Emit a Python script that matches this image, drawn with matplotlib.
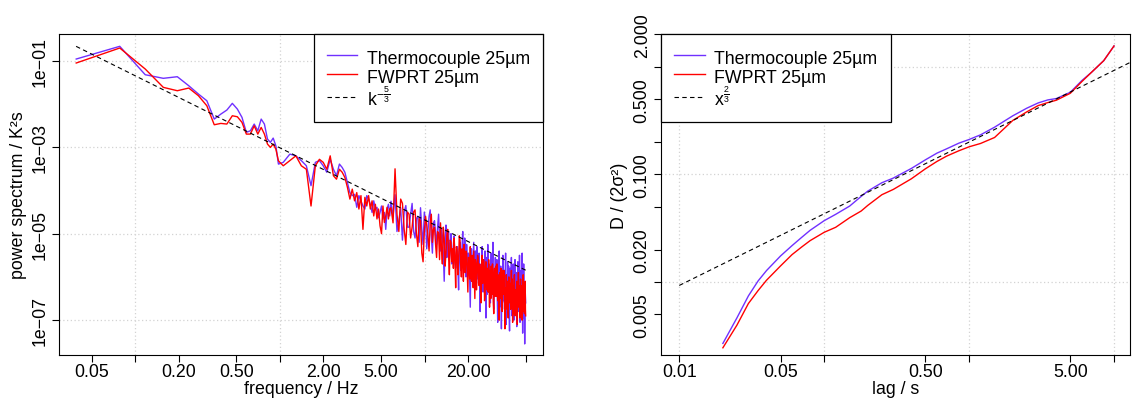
import numpy as np
import matplotlib
matplotlib.use("Agg")
import matplotlib.pyplot as plt
from matplotlib.ticker import FixedLocator, FixedFormatter, NullLocator

plt.rcParams['font.family'] = ['Liberation Sans', 'DejaVu Sans']
plt.rcParams['mathtext.fontset'] = 'custom'
plt.rcParams['mathtext.rm'] = 'Liberation Sans'
plt.rcParams['mathtext.it'] = 'Liberation Sans:italic'

# ---------------- power spectrum (left) ----------------
# frequency bins k * df (df = 1/25.6 Hz), thinned above 1 Hz
df = 1 / 25.6
bins = np.concatenate([np.arange(1, 26), np.arange(27, 148, 3), np.arange(150, 1281, 5)])

# log10 of the spectrum
tc_lo = [-0.961, -0.667, -1.324, -1.407, -1.370, -1.579, -1.771, -1.926, -2.350, -2.234,
         -2.141, -1.986, -2.118, -2.311, -2.657, -2.620, -2.465, -2.620, -2.350, -2.465,
         -2.812, -2.889, -2.789, -2.968, -3.391]
pr_lo = [-1.053, -0.706, -1.192, -1.616, -1.694, -1.632, -1.810, -2.042, -2.481, -2.450,
         -2.465, -2.273, -2.296, -2.426, -2.697, -2.697, -2.505, -2.697, -2.543, -2.697,
         -2.928, -3.005, -2.928, -3.044, -3.315]

tc_mid = [-3.35, -3.16, -3.20, -3.31, -3.43, -3.89, -3.35, -3.31, -3.43, -3.58,
          -3.28, -3.51, -3.66, -3.39, -3.47, -3.58, -3.82, -4.05, -4.12, -4.09,
          -4.39, -4.12, -4.24, -4.36, -4.43, -4.12, -4.20, -4.32, -4.51, -4.24,
          -4.43, -4.39, -4.63, -4.51, -4.36, -4.66, -4.51, -4.90, -4.43, -4.32,
          -4.59]
pr_mid = [-3.43, -3.31, -3.20, -3.43, -3.51, -4.36, -3.43, -3.28, -3.35, -3.51,
          -3.20, -3.66, -3.74, -3.51, -3.58, -3.70, -3.93, -4.20, -3.97, -4.24,
          -4.05, -4.43, -4.12, -4.90, -4.16, -4.36, -4.12, -4.43, -4.24, -4.59,
          -4.32, -4.66, -4.43, -4.82, -5.00, -4.36, -4.74, -4.59, -4.39, -4.66,
          -4.43]

tc_hi = [-4.25, -4.60, -4.10, -4.95, -4.70, -4.40, -5.15, -4.50, -4.35, -4.85,
         -4.85, -4.55, -4.30, -4.95, -5.10, -4.65, -4.60, -5.20, -4.40, -4.90,
         -5.25, -4.50, -4.70, -5.35, -4.95, -4.60, -4.45, -5.05, -5.45, -4.75,
         -4.70, -5.00, -5.25, -4.85, -4.55, -5.15, -5.40, -4.90, -5.05, -5.45,
         -6.10, -5.20, -4.80, -5.55, -5.30, -4.95, -5.60, -5.25, -5.00, -5.70,
         -5.50, -5.25, -5.05, -5.65, -5.80, -5.45, -5.30, -5.75, -6.30, -5.40,
         -5.20, -5.85, -5.60, -5.30, -4.95, -5.55, -5.90, -5.10, -5.40, -6.00,
         -5.25, -5.70, -5.95, -5.45, -5.50, -6.10, -6.70, -5.60, -5.35, -6.05,
         -5.80, -5.50, -5.20, -5.85, -6.20, -5.40, -5.65, -6.15, -5.30, -5.90,
         -6.05, -5.60, -5.45, -6.20, -6.80, -5.85, -5.70, -6.10, -5.30, -5.95,
         -6.35, -5.65, -5.90, -6.25, -5.40, -6.15, -6.95, -5.55, -5.75, -6.40,
         -5.25, -5.90, -6.20, -5.70, -5.85, -6.35, -6.60, -5.80, -5.45, -6.25,
         -6.00, -5.60, -5.20, -6.40, -6.75, -6.10, -5.95, -6.30, -5.55, -6.45,
         -6.40, -5.90, -5.60, -6.55, -7.05, -6.20, -6.00, -5.85, -5.40, -6.70,
         -6.30, -5.95, -5.75, -6.50, -7.20, -6.35, -6.10, -6.75, -5.50, -6.05,
         -6.55, -6.15, -5.85, -6.60, -6.25, -5.80, -5.45, -6.65, -7.10, -6.40,
         -6.00, -6.50, -5.65, -6.20, -6.45, -5.75, -5.95, -6.85, -7.25, -6.30,
         -5.80, -6.35, -6.50, -6.00, -5.55, -6.75, -6.90, -6.30, -6.10, -6.55,
         -5.70, -6.40, -7.00, -6.25, -6.20, -6.85, -5.60, -6.45, -6.65, -6.05,
         -5.90, -6.55, -7.15, -6.40, -6.35, -6.00, -5.65, -6.60, -6.80, -6.30,
         -6.05, -6.70, -5.50, -6.45, -7.05, -6.15, -6.25, -6.90, -5.85, -6.50,
         -6.70, -6.10, -5.45, -6.65, -7.30, -6.50, -6.15, -6.80, -5.70, -6.40,
         -6.95, -6.25, -7.55, -6.85, -6.30, -6.45, -6.60]
pr_hi = [-4.40, -4.75, -3.50, -4.55, -4.95, -4.20, -4.30, -4.90, -5.25, -4.50,
         -4.55, -5.10, -4.85, -4.50, -4.45, -5.00, -5.30, -4.65, -4.70, -5.45,
         -5.65, -4.95, -4.60, -4.80, -5.05, -5.40, -4.75, -4.55, -5.20, -4.90,
         -4.85, -5.25, -5.55, -4.95, -5.00, -5.60, -4.75, -5.35, -5.70, -4.85,
         -5.10, -5.75, -5.45, -5.05, -4.90, -5.50, -5.95, -5.15, -5.20, -5.65,
         -5.35, -5.80, -5.10, -5.55, -6.25, -5.30, -5.40, -5.95, -5.60, -5.05,
         -5.15, -5.70, -6.00, -5.35, -5.50, -6.10, -5.25, -5.65, -5.90, -5.40,
         -5.45, -5.90, -6.35, -5.55, -5.60, -6.05, -5.30, -5.85, -6.10, -5.50,
         -5.75, -6.25, -5.40, -5.95, -6.50, -5.60, -5.70, -6.30, -5.95, -5.50,
         -5.55, -6.00, -6.20, -5.70, -5.80, -6.35, -6.60, -5.90, -5.50, -6.15,
         -6.05, -5.60, -5.85, -6.55, -6.45, -5.75, -5.65, -6.20, -6.30, -5.80,
         -5.90, -6.35, -5.60, -6.10, -6.70, -5.85, -6.00, -6.50, -5.75, -6.20,
         -6.40, -5.70, -5.95, -6.60, -6.85, -6.05, -5.80, -6.45, -6.15, -5.75,
         -6.05, -6.45, -5.70, -6.15, -6.55, -5.95, -6.20, -6.60, -7.00, -6.30,
         -5.90, -6.50, -6.35, -5.80, -6.10, -6.65, -6.80, -6.25, -5.85, -6.40,
         -6.40, -5.85, -6.05, -6.55, -7.20, -6.35, -6.25, -6.75, -5.95, -6.45,
         -6.60, -6.10, -6.30, -6.70, -6.95, -6.20, -6.00, -6.60, -6.50, -6.15,
         -6.15, -6.50, -6.75, -6.25, -5.85, -6.60, -6.45, -6.05, -7.05, -6.40,
         -6.20, -6.85, -6.55, -6.10, -5.95, -6.65, -6.90, -6.30, -6.35, -6.70,
         -6.60, -6.30, -6.10, -6.80, -7.10, -6.45, -6.30, -6.65, -5.90, -6.50,
         -6.70, -6.20, -6.40, -6.75, -6.95, -6.35, -6.05, -6.85, -6.55, -6.20,
         -6.25, -6.70, -7.00, -6.40, -6.45, -6.60, -5.95, -6.55, -6.80, -6.15,
         -6.35, -6.85, -6.65, -6.40, -6.10, -6.75, -6.90]

kol_f = [0.039, 50.0]
kol_p = [0.215, 1.43e-6]

# ---------------- structure function (right) ----------------
lag = [0.02, 0.025, 0.03, 0.035, 0.04, 0.05, 0.06, 0.07, 0.08, 0.1, 0.12, 0.15, 0.18,
       0.2, 0.25, 0.3, 0.4, 0.5, 0.6, 0.7, 0.85, 1.0, 1.2, 1.5, 2.0, 2.5, 3.0, 3.5,
       4.0, 5.0, 6.0, 7.0, 8.5, 10.0]
tc_D = [0.00269, 0.00465, 0.00744, 0.01025, 0.01279, 0.01749, 0.02181, 0.02605, 0.03027,
        0.0372, 0.04259, 0.05087, 0.06253, 0.07007, 0.08375, 0.09253, 0.1138, 0.1369,
        0.1578, 0.1731, 0.1954, 0.2113, 0.2335, 0.275, 0.3504, 0.4127, 0.4624, 0.4932,
        0.5074, 0.5808, 0.7451, 0.8905, 1.1425, 1.5629]
pr_D = [0.00245, 0.00398, 0.00632, 0.00834, 0.0104, 0.01413, 0.01799, 0.0212, 0.02427,
        0.029, 0.03227, 0.03966, 0.04573, 0.0516, 0.0648, 0.07262, 0.09123, 0.113,
        0.1321, 0.1481, 0.166, 0.1807, 0.1941, 0.2206, 0.3172, 0.3816, 0.4369, 0.4658,
        0.4897, 0.5685, 0.7295, 0.8905, 1.1425, 1.5629]
ref_lag = [0.01, 20.0]
ref_D = [0.0093, 1.47]

labels = ['Thermocouple 25µm', 'FWPRT 25µm']
col_tc = '#7030FF'
col_pr = '#FF0000'
FS = 12.8

fig = plt.figure(figsize=(11.32, 4.02), dpi=100)
ax1 = fig.add_axes([0.05212, 0.11443, 0.42783, 0.79851])
ax2 = fig.add_axes([0.58392, 0.11443, 0.41475, 0.79851])


def style_axis(ax, xt, xl, yt, yl, gx, gy):
    ax.set_xscale('log')
    ax.set_yscale('log')
    for g in gx:
        ax.axvline(g, color='#d3d3d3', lw=0.9, ls=(0, (1, 2)), zorder=0)
    for g in gy:
        ax.axhline(g, color='#d3d3d3', lw=0.9, ls=(0, (1, 2)), zorder=0)
    ax.xaxis.set_major_locator(FixedLocator(xt))
    ax.xaxis.set_major_formatter(FixedFormatter(xl))
    ax.yaxis.set_major_locator(FixedLocator(yt))
    ax.yaxis.set_major_formatter(FixedFormatter(yl))
    ax.xaxis.set_minor_locator(NullLocator())
    ax.yaxis.set_minor_locator(NullLocator())
    ax.tick_params(direction='out', length=5, width=0.8, labelsize=FS, pad=1)
    ax.tick_params(axis='y', pad=2.4)
    for lab in ax.get_yticklabels():
        lab.set_rotation(90)
        lab.set_va('center')
    for s in ax.spines.values():
        s.set_linewidth(0.8)


# left panel
freq = bins * df
ax1.plot(freq, 10 ** np.array(tc_lo + tc_mid + tc_hi), color=col_tc, lw=1.0, label=labels[0])
ax1.plot(freq, 10 ** np.array(pr_lo + pr_mid + pr_hi), color=col_pr, lw=1.0, label=labels[1])
ax1.plot(kol_f, kol_p, color='black', lw=0.8, ls=(0, (4, 3)), label=r'$\mathrm{k}^{-\frac{5}{3}}$')
ax1.set_xlim(0.0297, 66.2)
ax1.set_ylim(10 ** -7.806, 10 ** -0.382)
style_axis(ax1,
           [0.05, 0.1, 0.2, 0.5, 1, 2, 5, 10, 20, 50],
           ['0.05', '', '0.20', '0.50', '', '2.00', '5.00', '', '20.00', ''],
           [1e-1, 1e-3, 1e-5, 1e-7],
           ['1e\u221201', '1e\u221203', '1e\u221205', '1e\u221207'],
           [0.1, 1, 10], [1e-1, 1e-3, 1e-5, 1e-7])
ax1.set_xlabel('frequency / Hz', fontsize=FS)
ax1.set_ylabel('power spectrum / K²s', fontsize=FS)
ax1.xaxis.set_label_coords(0.5, -0.078)
ax1.yaxis.set_label_coords(-0.066, 0.5)

# right panel
ax2.plot(lag, tc_D, color=col_tc, lw=1.0, label=labels[0])
ax2.plot(lag, pr_D, color=col_pr, lw=1.0, label=labels[1])
ax2.plot(ref_lag, ref_D, color='black', lw=0.8, ls=(0, (4, 3)), label=r'$\mathrm{x}^{\frac{2}{3}}$')
ax2.set_xlim(0.00748, 13.0)
ax2.set_ylim(0.0021, 2.02)
style_axis(ax2,
           [0.01, 0.05, 0.1, 0.5, 1, 5, 10],
           ['0.01', '0.05', '', '0.50', '', '5.00', ''],
           [0.005, 0.01, 0.02, 0.05, 0.1, 0.2, 0.5, 1, 2],
           ['0.005', '', '0.020', '', '0.100', '', '0.500', '', '2.000'],
           [0.01, 0.1, 1, 10], [0.01, 0.1, 1])
ax2.set_xlabel('lag / s', fontsize=FS)
ax2.set_ylabel('D / (2σ²)', fontsize=FS)
ax2.xaxis.set_label_coords(0.5, -0.078)
ax2.yaxis.set_label_coords(-0.070, 0.5)

for ax, loc in [(ax1, 'upper right'), (ax2, 'upper left')]:
    leg = ax.legend(loc=loc, borderaxespad=0, fancybox=False, edgecolor='black',
                    framealpha=1, fontsize=FS, handlelength=1.7, handletextpad=0.55,
                    handleheight=1.24, borderpad=0.75, labelspacing=0.0)
    leg.get_frame().set_linewidth(0.9)

fig.savefig('out.png', dpi=100)
